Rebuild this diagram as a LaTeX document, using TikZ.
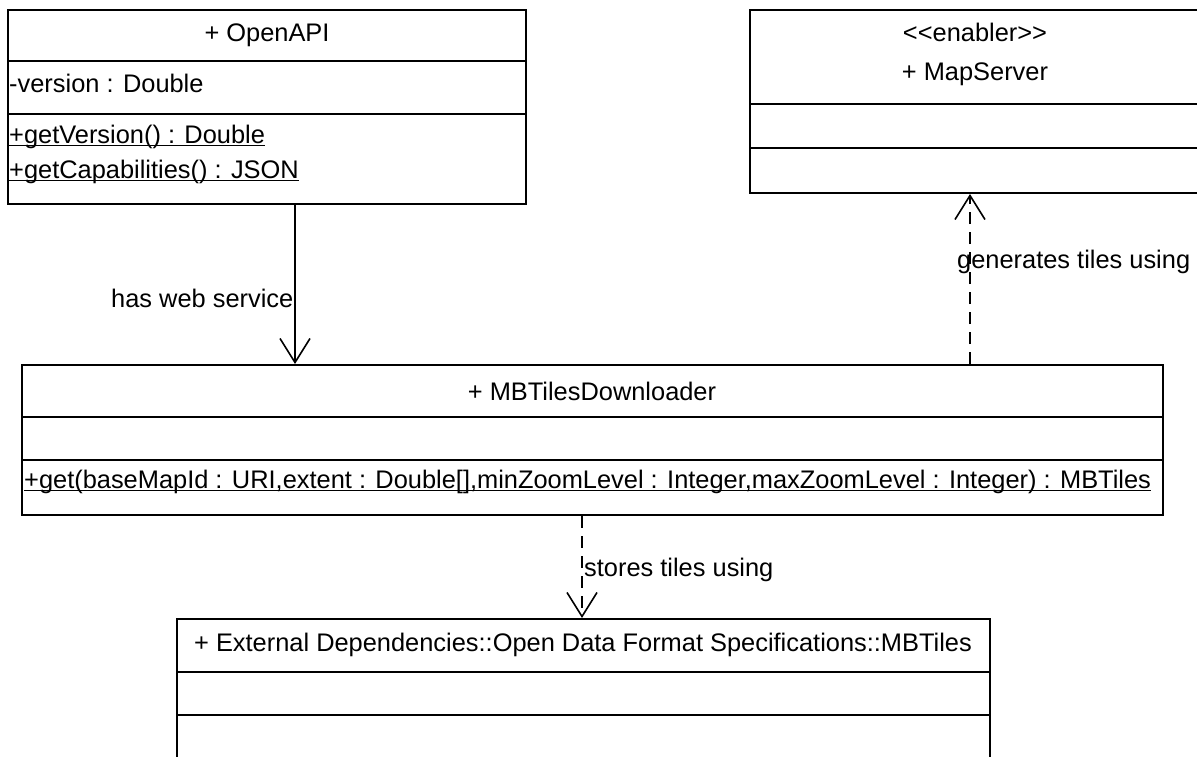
\documentclass[tikz,border=0pt]{standalone}
\usepackage{fontspec}
\setmainfont{Liberation Sans}
\usetikzlibrary{arrows.meta}
% underline drawn just below the baseline, as UML tools do for static members
\newcommand\staticop[1]{\setbox0\hbox{#1}\rlap{\rule[-2.5pt]{\wd0}{1.4pt}}\box0}
\begin{document}
\begin{tikzpicture}[x=1pt,y=-1pt,
  font=\fontsize{25.4}{30}\selectfont,
  classbox/.style={draw=black,line width=2pt,fill=white,inner sep=0pt,rectangle},
  divider/.style={draw=black,line width=2pt},
  member/.style={anchor=west,inner sep=0pt},
  title/.style={anchor=center,inner sep=0pt},
  assoc/.style={draw=black,line width=1.6pt,-{Straight Barb[length=24pt,width=30pt]}},
  depend/.style={assoc,dash pattern=on 12pt off 8pt},
  lbl/.style={anchor=west,inner sep=0pt}]
\clip (0,0) rectangle (1197,757);
\fill[white] (0,0) rectangle (1197,757);

% OpenAPI class
\node[classbox,minimum width=518pt,minimum height=194pt] (openapi) at (267,107) {};
\draw[divider] (openapi.west |- 0,61) -- (openapi.east |- 0,61);
\draw[divider] (openapi.west |- 0,114) -- (openapi.east |- 0,114);
\node[title] (openapi-name) at (267,35) {+ OpenAPI};
\node[member] (openapi-attr) at (9,83) {-version : Double};
\node[member] (openapi-op1) at (9,137) {\staticop{+getVersion() : Double}};
\node[member] (openapi-op2) at (9,172) {\staticop{+getCapabilities() : JSON}};

% MapServer class
\node[classbox,minimum width=452pt,minimum height=183pt] (mapserver) at (976,101.5) {};
\draw[divider] (mapserver.west |- 0,104) -- (mapserver.east |- 0,104);
\draw[divider] (mapserver.west |- 0,148) -- (mapserver.east |- 0,148);
\node[title] (mapserver-stereo) at (975,32) {{<}{<}enabler{>}{>}};
\node[title] (mapserver-name) at (975,74) {+ MapServer};

% MBTilesDownloader class
\node[classbox,minimum width=1141pt,minimum height=150pt] (mbd) at (592.5,440) {};
\draw[divider] (mbd.west |- 0,417) -- (mbd.east |- 0,417);
\draw[divider] (mbd.west |- 0,460) -- (mbd.east |- 0,460);
\node[title] (mbd-name) at (592,391) {+ MBTilesDownloader};
\node[member] (mbd-op) at (24,482) {\staticop{+get(baseMapId : URI,extent : Double[],minZoomLevel : Integer,maxZoomLevel : Integer) : MBTiles}};

% MBTiles class
\node[classbox,minimum width=813pt,minimum height=151pt] (mbtiles) at (583.5,694.5) {};
\draw[divider] (mbtiles.west |- 0,672) -- (mbtiles.east |- 0,672);
\draw[divider] (mbtiles.west |- 0,715) -- (mbtiles.east |- 0,715);
\node[title] (mbtiles-name) at (583,645) {+ External Dependencies::Open Data Format Specifications::MBTiles};

% connectors
\coordinate (webx) at (295,0);
\coordinate (genx) at (970,0);
\coordinate (storex) at (582,0);
\draw[assoc] (openapi.south -| webx) -- (mbd.north -| webx);
\draw[depend] (mbd.north -| genx) -- (mapserver.south -| genx);
\draw[depend] (mbd.south -| storex) -- (mbtiles.north -| storex);

% connector labels
\node[lbl] (web-lbl) at (111,298) {has web service};
\node[lbl] (gen-lbl) at (957,262) {generates tiles using};
\node[lbl] (store-lbl) at (584,570) {stores tiles using};
\end{tikzpicture}
\end{document}
